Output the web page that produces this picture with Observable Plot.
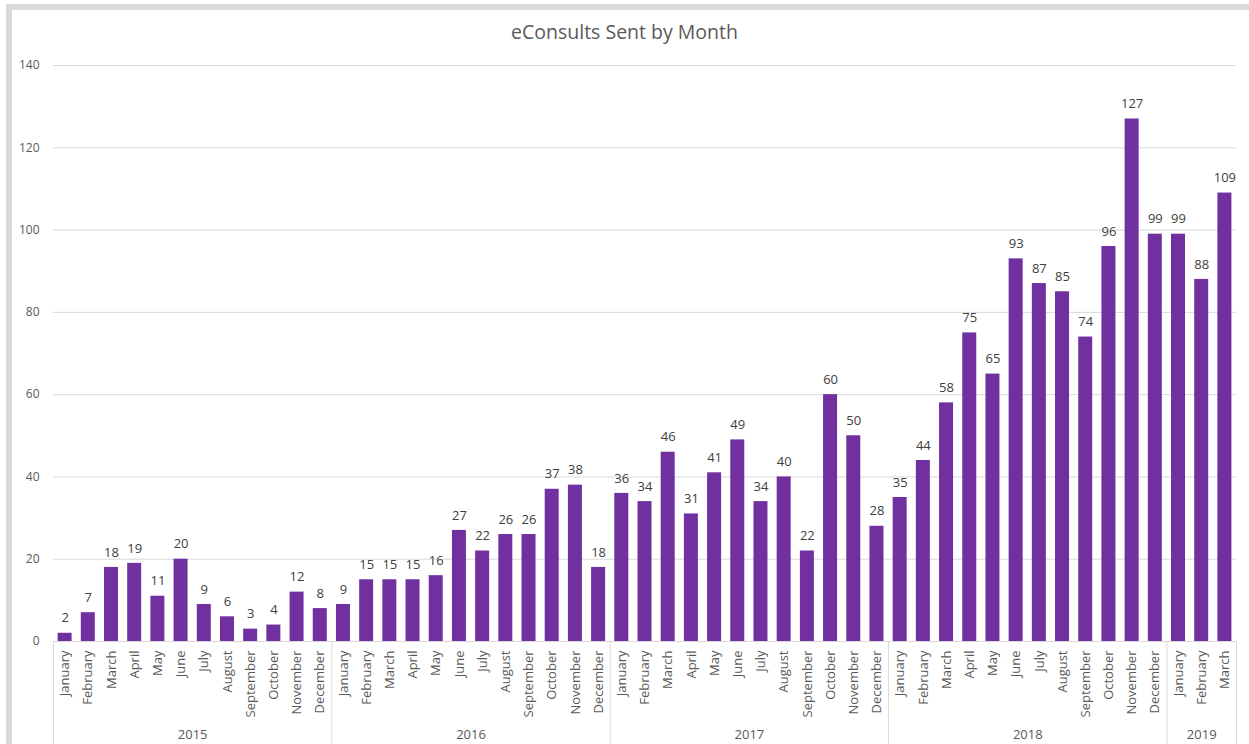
<!DOCTYPE html>
<html>
<head>
<meta charset="utf-8">
<script src="https://cdn.jsdelivr.net/npm/d3@7"></script>
<script src="https://cdn.jsdelivr.net/npm/@observablehq/plot@0.6"></script>
<style>
  html, body { margin: 0; padding: 0; background: #fff; width: 1249px; height: 744px; overflow: hidden; }
  #frame { position: absolute; left: 6px; top: 4px; width: 1300px; height: 800px;
           border-left: 6px solid #d9d9d9; border-top: 6px solid #d9d9d9; box-sizing: border-box; }
  #title { position: absolute; left: 0; width: 1249px; top: 19px; text-align: center;
           font-family: "Open Sans", sans-serif; font-size: 19.5px; color: #595959; line-height: 26px; }
  #chart { position: absolute; left: 0; top: 0; }
</style>
</head>
<body>
<div id="frame"></div>
<div id="chart"></div>
<div id="title">eConsults Sent by Month</div>
<script>
const months = ["January","February","March","April","May","June","July","August","September","October","November","December"];
const years = [2015, 2016, 2017, 2018, 2019];
const sent2015 = [2, 7, 18, 19, 11, 20, 9, 6, 3, 4, 12, 8];
const sent2016 = [9, 15, 15, 15, 16, 27, 22, 26, 26, 37, 38, 18];
const sent2017 = [36, 34, 46, 31, 41, 49, 34, 40, 22, 60, 50, 28];
const sent2018 = [35, 44, 58, 75, 65, 93, 87, 85, 74, 96, 127, 99];
const sent2019 = [99, 88, 109];
const yTicks = [0, 20, 40, 60, 80, 100, 120, 140];

const series = [sent2015, sent2016, sent2017, sent2018, sent2019];
const rows = [];
const yearGroups = [];
series.forEach((vals, k) => {
  const start = rows.length;
  vals.forEach((v, m) => rows.push({i: rows.length, year: years[k], month: months[m], value: v}));
  yearGroups.push({year: years[k], start, end: rows.length});
});
const bounds = yearGroups.map(g => g.start).concat([rows.length]);

const textColor = "#595959";
const chart = Plot.plot({
  width: 1249,
  height: 744,
  marginTop: 65,
  marginBottom: 103,
  marginLeft: 53,
  marginRight: 13,
  style: {background: "transparent", fontFamily: "'Open Sans', sans-serif", fontSize: "12px", color: textColor},
  x: {type: "linear", domain: [0, rows.length], axis: null},
  y: {domain: [0, 140], ticks: yTicks, tickSize: 0, tickPadding: 14, label: null, tickFormat: d => String(d)},
  marks: [
    Plot.ruleY(yTicks, {stroke: "#d9d9d9", strokeWidth: 1}),
    Plot.rectY(rows, {x1: d => d.i, x2: d => d.i + 1, y: "value", fill: "#7030A0", insetLeft: 4.6, insetRight: 4.6}),
    Plot.text(rows, {x: d => d.i + 0.5, y: "value", text: d => String(d.value), dy: -15, fill: "#404040", fontSize: 13}),
    Plot.text(rows, {x: d => d.i + 0.5, y: () => 0, text: "month", rotate: -90, textAnchor: "end", dy: 9, fill: textColor, fontSize: 13}),
    Plot.ruleX(bounds, {y1: () => 0, y2: () => 0, insetBottom: -110, stroke: "#d9d9d9"}),
    Plot.text(yearGroups, {x: d => (d.start + d.end) / 2, y: () => 0, text: d => String(d.year), dy: 93, fill: textColor, fontSize: 13})
  ]
});
document.getElementById("chart").appendChild(chart);
</script>
</body>
</html>
